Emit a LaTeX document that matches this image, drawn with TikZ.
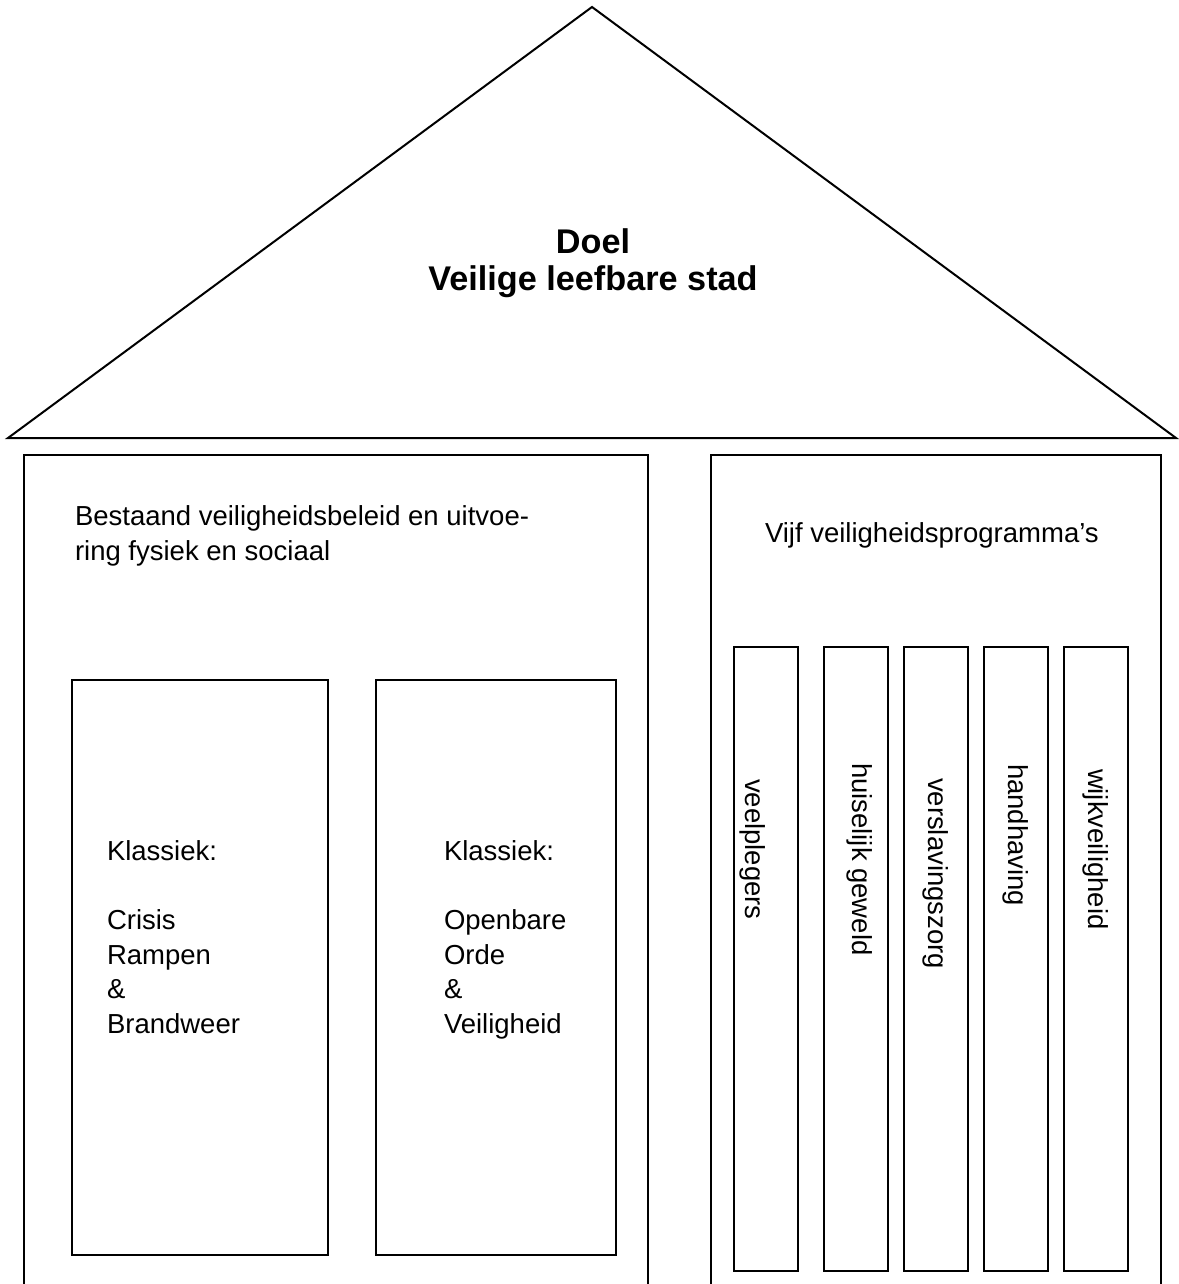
\documentclass[tikz,border=0pt]{standalone}
\usepackage{fontspec}
\setmainfont{Liberation Sans}
\begin{document}
\begin{tikzpicture}[x=0.4pt, y=-0.4pt, line width=0.8pt,
   tekst/.style={inner sep=0pt, anchor=base west, align=left,
                 font=\fontsize{11}{13.8}\selectfont},
   titel/.style={inner sep=0pt, anchor=base, align=center,
                 font=\fontsize{13.7}{14.8}\selectfont\bfseries},
   staand/.style={inner sep=0pt, anchor=base west, rotate=-90,
                  font=\fontsize{11}{13.8}\selectfont}]

\useasboundingbox (0,0) rectangle (1178,1284);

% dak
\draw (8,438) -- (592,7) -- (1176,438) -- cycle;
\node[titel] (doel) at (593,291) {Doel\\Veilige leefbare stad};

% linker deel
\draw (24,1284) |- (648,455) -- (648,1284);
\node[tekst] (bestaand) at (74,560)
    {Bestaand veiligheidsbeleid en uitvoe-\\ring fysiek en sociaal};
\draw (72,680) rectangle (328,1255);
\draw (376,680) rectangle (616,1255);
\node[tekst] (crisis) at (106,1033)
    {Klassiek:\\[13.8pt]Crisis\\Rampen\\\&\\Brandweer};
\node[tekst] (orde) at (443,1033)
    {Klassiek:\\[13.8pt]Openbare\\Orde\\\&\\Veiligheid};

% rechter deel
\draw (711,1284) |- (1161,455) -- (1161,1284);
\node[tekst] (vijf) at (764,542) {Vijf veiligheidsprogramma’s};
\foreach \x/\b/\s/\t [count=\i] in {734/745/778/veelplegers,
                                    824/852/762/huiselijk geweld,
                                    904/928/777/verslavingszorg,
                                    984/1008/763/handhaving,
                                    1064/1088/768/wijkveiligheid}
{
  \draw (\x,647) rectangle ++(64,624);
  \node[staand] (prog\i) at (\b,\s) {\t};
}

\end{tikzpicture}
\end{document}
